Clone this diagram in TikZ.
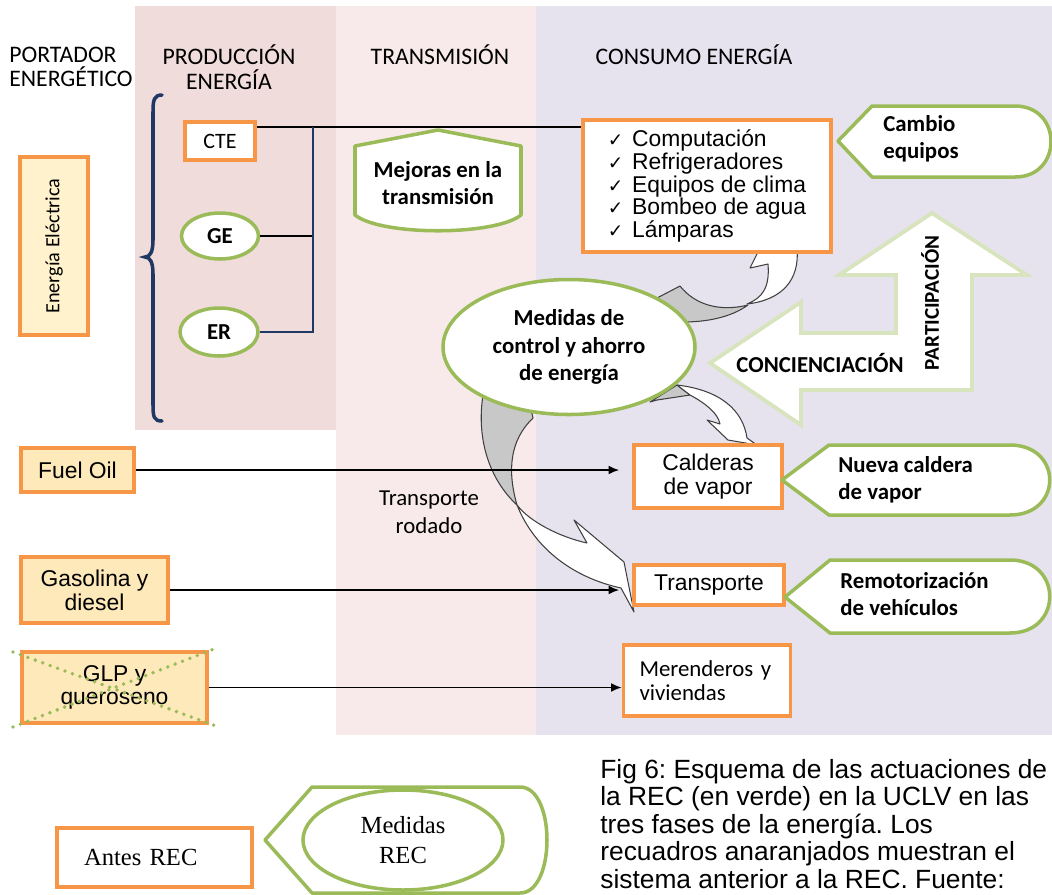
\documentclass[tikz,border=0pt]{standalone}
\usepackage{fontspec}
\setmainfont{Carlito}
\newfontfamily\arialf{Liberation Sans}
\newfontfamily\tnrf{Liberation Serif}
\newfontfamily\dejavu{DejaVu Sans}
\usetikzlibrary{arrows.meta,shapes.geometric}
\frenchspacing

\definecolor{bandprod}{HTML}{F0DCDB}
\definecolor{bandtrans}{HTML}{F8EAEA}
\definecolor{bandcons}{HTML}{E6E3EF}
\definecolor{orangeline}{HTML}{F79646}
\definecolor{greenline}{HTML}{9BBB59}
\definecolor{palegreen}{HTML}{D7E4BD}
\definecolor{paleyellow}{HTML}{FFF2CC}
\definecolor{tanfill}{HTML}{FDE9B9}
\definecolor{navy}{HTML}{1F3864}
\definecolor{arrowgray}{HTML}{C8C8C8}

\newcommand{\pxu}{0.02cm}
\newcommand{\chk}{{\dejavu\fontsize{10.5}{13}\selectfont ✓}\hspace{5pt}}

\begin{document}
\begin{tikzpicture}[x=0.02cm, y=-0.02cm,
  every node/.style={inner sep=0pt},
  hdr/.style={font=\fontsize{13.5}{14}\selectfont, align=center},
  oldbox/.style={draw=orangeline, line width=2pt, fill=white},
  recell/.style={ellipse, draw=greenline, line width=2pt, fill=white,
                 font=\bfseries\fontsize{13}{15}\selectfont},
  rec/.style={draw=greenline, line width=2pt, fill=white, line join=round},
  lbl/.style={font=\bfseries\fontsize{13}{15.5}\selectfont, align=left},
  feed/.style={line width=1pt},
  feedarrow/.style={line width=1pt, -{Latex[length=6pt,width=5pt]}},
  curvegray/.style={fill=arrowgray, draw=black!75, line width=0.6pt, line join=round},
  curvewhite/.style={fill=white, draw=black!75, line width=0.6pt, line join=round},
  crossout/.style={draw=greenline, line width=2.2pt, line cap=round, dash pattern=on 0pt off 4.5pt}]
\useasboundingbox (0,0) rectangle (1052,894);

% fases
\fill[bandprod] (135,6) rectangle (336,430);
\fill[bandtrans] (336,6) rectangle (536,735);
\fill[bandcons] (536,6) rectangle (1052,735);

\node[hdr, anchor=west, align=left] (portador) at (9,67) {PORTADOR\\ENERGÉTICO};
\node[hdr] (produccion) at (229,67) {PRODUCCIÓN\\ENERGÍA};
\node[hdr] (transmision) at (440,55) {TRANSMISIÓN};
\node[hdr] (consumo) at (694,55) {CONSUMO ENERGÍA};

% portador electrico
\node[oldbox, fill=paleyellow, rotate=90, minimum width=178*\pxu, minimum height=68*\pxu,
      font=\fontsize{11.5}{13}\selectfont] (electrica) at (54,246) {Energía Eléctrica};
\draw[navy, line width=2pt, line cap=round] (162,95) .. controls (154,95) and (153,100) .. (153,112)
  -- (153,240) .. controls (153,252) and (150,257) .. (145,257)
  .. controls (150,257) and (153,262) .. (153,274) -- (153,405)
  .. controls (153,417) and (154,421) .. (162,421);

% flechas curvas
\filldraw[curvegray] (657,298) -- (680,286) .. controls (695,305) and (720,312) .. (748,305)
  .. controls (730,318) and (705,322) .. (683,322) -- cycle;
\filldraw[curvewhite] (747,304) .. controls (762,298) and (770,288) .. (768,264) -- (750,268)
  -- (760,248) -- (797,248) .. controls (800,280) and (782,300) .. (747,304) -- cycle;
\filldraw[curvegray] (650,402) -- (677,385) -- (690,395) -- (657,400) -- cycle;
\filldraw[curvewhite] (690,395) .. controls (705,403) and (718,413) .. (720,424) -- (707,420)
  -- (728,440) -- (757,445) -- (747,438) .. controls (743,410) and (720,390) .. (677,385) -- cycle;
\filldraw[curvegray] (483,395) .. controls (476,440) and (490,480) .. (517,505)
  .. controls (507,470) and (510,440) .. (533,418) -- (530,405) -- cycle;
\filldraw[curvewhite] (517,505) .. controls (530,522) and (560,537) .. (587,543) -- (574,520)
  -- (624,562) -- (634,612) -- (621,588) .. controls (575,578) and (535,550) .. (517,505) -- cycle;

% produccion
\node[oldbox, minimum width=70*\pxu, minimum height=38*\pxu, font=\fontsize{12.5}{14}\selectfont] (cte) at (220,141) {CTE};
\node[recell, minimum width=77*\pxu, minimum height=46*\pxu] (ge) at (220,236) {GE};
\node[recell, minimum width=78*\pxu, minimum height=48*\pxu] (er) at (219,332) {ER};

% consumo
\node[oldbox, minimum width=248*\pxu, minimum height=132*\pxu, align=left,
      font=\arialf\fontsize{13}{13}\selectfont] (equipos) at (707,186)
  {\chk Computación\\\chk Refrigeradores\\\chk Equipos de clima\\\chk Bombeo de agua\\\chk Lámparas};

\coordinate (bus) at (313,127);
\draw[feed] (cte.east |- bus) -- (bus -| equipos.west);
\draw[feed] (ge.east) -- (ge -| bus);
\draw[feed, navy] (bus) -- (bus |- er) -- (er.east);

\draw[rec] (438,130) -- (521,146) -- (521,215) .. controls (495,236) and (381,236) .. (355,215) -- (355,146) -- cycle;
\node[lbl, align=center] (mejoras) at (438,183) {Mejoras en la\\transmisión};

\draw[rec] (838,141) -- (872,106) -- (1015,106) .. controls (1063,106) and (1063,177) .. (1015,177) -- (872,177) -- cycle;
\node[lbl, anchor=west] (cambio) at (883,139) {Cambio\\equipos};

\draw[draw=palegreen, line width=2.2pt, fill=white] (710,363) -- (801,302) -- (801,333) -- (896,333)
  -- (896,275) -- (839,275) -- (932,213) -- (1027,275) -- (972,275) -- (972,390) -- (801,390) -- (801,425) -- cycle;
\node[lbl] (concienciacion) at (820,363) {CONCIENCIACIÓN};
\node[lbl, rotate=90, font=\bfseries\fontsize{12}{14}\selectfont] (participacion) at (930,303) {PARTICIPACIÓN};

\node[recell, minimum width=252*\pxu, minimum height=135*\pxu, align=center,
      font=\bfseries\fontsize{13}{15.5}\selectfont] (medidas) at (569,347) {Medidas de\\control y ahorro\\de energía};

% otros portadores
\node[oldbox, fill=tanfill, minimum width=113*\pxu, minimum height=44*\pxu,
      font=\arialf\fontsize{13}{13.5}\selectfont] (fuel) at (77.5,470) {Fuel Oil};
\node[oldbox, fill=tanfill, minimum width=147*\pxu, minimum height=66*\pxu, align=center,
      font=\arialf\fontsize{13}{13.5}\selectfont] (gasolina) at (94.5,590) {Gasolina y\\diesel};
\node[oldbox, fill=tanfill, minimum width=185*\pxu, minimum height=71*\pxu, align=center,
      font=\arialf\fontsize{13}{13.5}\selectfont] (glp) at (114.5,687.5) {GLP y\\queroseno};
\draw[crossout] (13,652) -- (216,726);
\draw[crossout] (13,727) -- (214,649);

\node[oldbox, minimum width=148*\pxu, minimum height=63*\pxu, align=center,
      font=\arialf\fontsize{13}{13.5}\selectfont] (calderas) at (708,476.5) {Calderas\\de vapor};
\node[oldbox, minimum width=150*\pxu, minimum height=40*\pxu,
      font=\arialf\fontsize{13}{13.5}\selectfont] (transporte) at (709,585) {Transporte};
\node[oldbox, minimum height=71*\pxu, text width=2.7cm, inner xsep=16*\pxu, align=left,
      font=\fontsize{13}{13.5}\selectfont] (merenderos) at (707,680.5) {Merenderos y\\viviendas};

\draw[feedarrow, shorten >=13*\pxu] (fuel.east) -- (fuel.east -| calderas.west);
\draw[feedarrow, shorten >=13*\pxu] (gasolina.east) -- (gasolina.east -| transporte.west);
\draw[feedarrow] (glp.east) -- (glp.east -| merenderos.west);

\node[font=\fontsize{13}{16}\selectfont, align=center] (rodado) at (429,512) {Transporte\\rodado};

\draw[rec] (782,480) -- (829,445) -- (1010,445) .. controls (1063,445) and (1063,515) .. (1010,515) -- (829,515) -- cycle;
\node[lbl, anchor=west] (caldera) at (838,480) {Nueva caldera\\de vapor};
\draw[rec] (785,597) -- (830,560) -- (1010,560) .. controls (1063,560) and (1063,633) .. (1010,633) -- (830,633) -- cycle;
\node[lbl, anchor=west] (remotor) at (840,594) {Remotorización\\de vehículos};

% leyenda
\node[oldbox, minimum height=59*\pxu, text width=141*\pxu, inner xsep=27*\pxu, align=left,
      font=\tnrf\fontsize{14}{16}\selectfont] (antes) at (154.5,857.5) {Antes REC};
\draw[rec] (265,840) -- (312,787) -- (520,787) .. controls (556,787) and (556,893) .. (520,893) -- (312,893) -- cycle;
\node[recell, minimum width=200*\pxu, minimum height=100*\pxu, align=center,
      font=\tnrf\fontsize{14}{17}\selectfont] (medrec) at (403,840) {Medidas\\REC};

\node[anchor=north west, align=left, font=\arialf\fontsize{15}{15.6}\selectfont] (pie) at (600,759)
  {Fig 6: Esquema de las actuaciones de\\la REC (en verde) en la UCLV en las\\tres fases de la energía. Los\\recuadros anaranjados muestran el\\sistema anterior a la REC. Fuente:};
\end{tikzpicture}
\end{document}
